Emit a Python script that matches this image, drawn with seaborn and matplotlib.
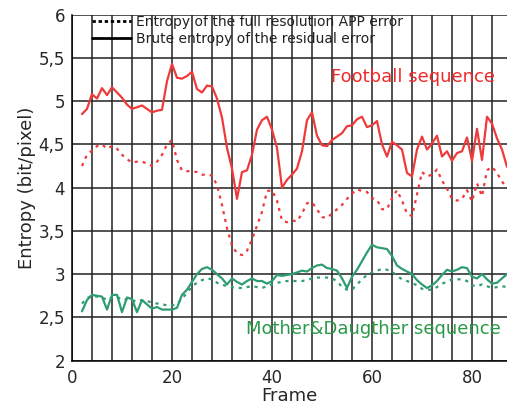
import numpy as np
import pandas as pd
import matplotlib
matplotlib.use("Agg")
import matplotlib.pyplot as plt
import seaborn as sns
from matplotlib.lines import Line2D
from matplotlib.ticker import MultipleLocator, FuncFormatter

frames = list(range(2, 88))

football_brute = [4.85, 4.91, 5.08, 5.03, 5.15, 5.07, 5.16, 5.10, 5.04, 4.96,
                  4.91, 4.93, 4.95, 4.91, 4.87, 4.89, 4.90, 5.23, 5.43, 5.27,
                  5.26, 5.29, 5.34, 5.14, 5.10, 5.18, 5.17, 5.03, 4.81, 4.46,
                  4.22, 3.87, 4.18, 4.20, 4.38, 4.67, 4.78, 4.82, 4.67, 4.46,
                  4.00, 4.09, 4.15, 4.22, 4.42, 4.78, 4.87, 4.60, 4.49, 4.48,
                  4.55, 4.59, 4.63, 4.71, 4.72, 4.79, 4.82, 4.70, 4.72, 4.77,
                  4.50, 4.36, 4.53, 4.49, 4.44, 4.17, 4.13, 4.44, 4.59, 4.44,
                  4.51, 4.60, 4.36, 4.42, 4.31, 4.40, 4.42, 4.58, 4.31, 4.68,
                  4.32, 4.82, 4.74, 4.57, 4.44, 4.24]

football_app = [4.25, 4.38, 4.43, 4.48, 4.50, 4.45, 4.48, 4.45, 4.38, 4.33,
                4.29, 4.30, 4.30, 4.28, 4.25, 4.30, 4.38, 4.50, 4.55, 4.32,
                4.20, 4.19, 4.19, 4.18, 4.15, 4.15, 4.14, 4.03, 3.80, 3.53,
                3.33, 3.24, 3.22, 3.27, 3.40, 3.56, 3.72, 3.96, 3.97, 3.85,
                3.62, 3.60, 3.62, 3.61, 3.70, 3.82, 3.83, 3.75, 3.66, 3.65,
                3.70, 3.75, 3.80, 3.87, 3.93, 3.98, 3.96, 3.95, 3.88, 3.86,
                3.75, 3.75, 3.88, 3.97, 3.85, 3.70, 3.67, 3.92, 4.18, 4.13,
                4.15, 4.21, 4.08, 3.99, 3.87, 3.85, 3.87, 3.97, 3.84, 4.05,
                3.90, 4.20, 4.24, 4.17, 4.07, 4.00]

mother_brute = [2.57, 2.70, 2.76, 2.75, 2.74, 2.59, 2.76, 2.76, 2.56, 2.73,
                2.71, 2.56, 2.70, 2.65, 2.60, 2.62, 2.59, 2.59, 2.59, 2.61,
                2.76, 2.82, 2.91, 3.00, 3.06, 3.08, 3.05, 3.00, 2.95, 2.88,
                2.95, 2.91, 2.88, 2.92, 2.95, 2.92, 2.92, 2.89, 2.92, 2.99,
                2.98, 2.99, 3.00, 3.02, 3.04, 3.03, 3.07, 3.10, 3.11, 3.07,
                3.06, 3.04, 2.95, 2.84, 2.97, 3.05, 3.15, 3.25, 3.34, 3.31,
                3.30, 3.29, 3.21, 3.10, 3.06, 3.03, 3.00, 2.93, 2.88, 2.84,
                2.87, 2.92, 2.99, 3.05, 3.03, 3.05, 3.08, 3.07, 2.97, 2.95,
                3.00, 2.94, 2.89, 2.90, 2.95, 3.00]

mother_app = [2.66, 2.72, 2.75, 2.74, 2.73, 2.70, 2.73, 2.74, 2.70, 2.71,
              2.70, 2.68, 2.70, 2.69, 2.67, 2.66, 2.65, 2.64, 2.64, 2.65,
              2.72, 2.78, 2.86, 2.90, 2.93, 2.95, 2.94, 2.90, 2.88, 2.86,
              2.85, 2.84, 2.84, 2.85, 2.86, 2.85, 2.84, 2.86, 2.88, 2.90,
              2.91, 2.92, 2.92, 2.92, 2.92, 2.93, 2.95, 2.96, 2.96, 2.96,
              2.95, 2.92, 2.85, 2.82, 2.82, 2.88, 2.94, 2.99, 3.02, 3.04,
              3.06, 3.05, 3.03, 2.98, 2.94, 2.92, 2.90, 2.87, 2.83, 2.82,
              2.82, 2.85, 2.89, 2.91, 2.94, 2.94, 2.94, 2.92, 2.87, 2.86,
              2.88, 2.86, 2.84, 2.85, 2.86, 2.85]

legend_labels = ["Entropy of the full resolution APP error",
                 "Brute entropy of the residual error"]

red = "#f03a3a"
green = "#2e9e70"
dots = (0, (1.4, 2.2))

sns.set_style("white")
plt.rcParams['font.family'] = ['DejaVu Sans']

fig = plt.figure(figsize=(5.07, 4.07), dpi=100)
ax = fig.add_axes([0.142, 0.114, 0.858, 0.85])

sns.lineplot(x=frames, y=football_brute, ax=ax, color=red, linewidth=1.6)
sns.lineplot(x=frames, y=football_app, ax=ax, color=red, linewidth=1.6, linestyle=dots)
sns.lineplot(x=frames, y=mother_brute, ax=ax, color=green, linewidth=1.6)
sns.lineplot(x=frames, y=mother_app, ax=ax, color=green, linewidth=1.6, linestyle=dots)

ax.set_xlim(0, 87)
ax.set_ylim(2, 6)
ax.xaxis.set_major_locator(MultipleLocator(20))
ax.xaxis.set_minor_locator(MultipleLocator(4))
ax.yaxis.set_major_locator(MultipleLocator(0.5))
ax.yaxis.set_major_formatter(FuncFormatter(lambda v, p: f"{v:g}".replace(".", ",")))
ax.grid(True, which='both', axis='x', color='#333333', linewidth=1.2)
ax.grid(True, which='major', axis='y', color='#222222', linewidth=1.1)
ax.set_axisbelow(True)
ax.tick_params(axis='both', which='major', direction='out', length=4, width=1,
               labelsize=12, color='black')
ax.tick_params(axis='x', which='major', pad=2)
ax.tick_params(axis='y', which='major', pad=1)
ax.tick_params(axis='x', which='minor', length=0)
for s in ['top', 'right']:
    ax.spines[s].set_visible(False)
for s in ['left', 'bottom']:
    ax.spines[s].set_color('black')
    ax.spines[s].set_linewidth(1.1)

ax.set_xlabel("Frame", fontsize=13, labelpad=0)
ax.set_ylabel("Entropy (bit/pixel)", fontsize=13, labelpad=2)

ax.text(68.2, 5.28, "Football sequence", color="#f02a2a", fontsize=13,
        ha='center', va='center')
ax.text(60.2, 2.36, "Mother&Daugther sequence", color="#2a9a48", fontsize=13,
        ha='center', va='center')

handles = [Line2D([], [], color='black', linewidth=2, linestyle=(0, (1.2, 1.0))),
           Line2D([], [], color='black', linewidth=2)]
ax.legend(handles, legend_labels, loc='upper left', bbox_to_anchor=(0.046, 1.0),
          frameon=False, fontsize=10, handlelength=2.8, handletextpad=0.35,
          labelspacing=0.25, borderaxespad=0, borderpad=0, labelcolor='#222222')

fig.savefig("out.png", dpi=100)
